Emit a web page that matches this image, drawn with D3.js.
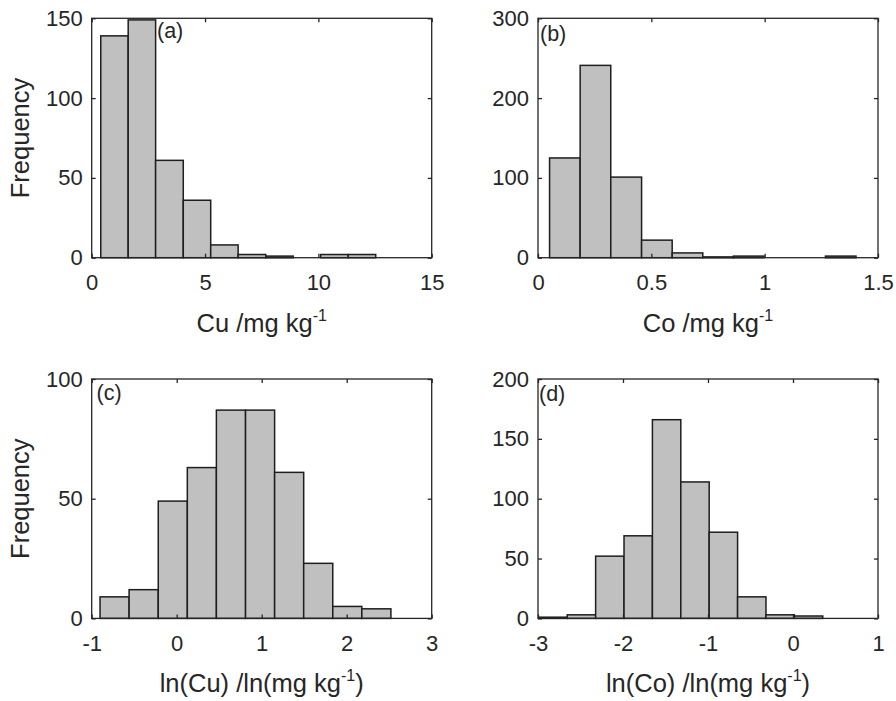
<!DOCTYPE html>
<html lang="en">
<head>
<meta charset="utf-8">
<script src="https://d3js.org/d3.v7.min.js"></script>
<style>
  body { margin: 0; background: #fff; }
  svg { display: block; font-family: "Liberation Sans", Arial, sans-serif; }
  .tick text { fill: #262626; font-size: 22px; }
  .tick line { stroke: #262626; stroke-width: 1.3px; }
  .domain { display: none; }
</style>
</head>
<body>
<svg id="chart" width="896" height="701"></svg>
<script>
// histogram bin edges and counts
const cuEdges = [0.40, 1.61, 2.82, 4.04, 5.25, 6.46, 7.68, 8.89, 10.10, 11.32, 12.53];
const cuCounts = [139, 149, 61, 36, 8, 2, 1, 0, 2, 2];

const coEdges = [0.051, 0.186, 0.321, 0.457, 0.592, 0.727, 0.862, 0.997, 1.133, 1.268, 1.403];
const coCounts = [125, 241, 101, 22, 6, 1, 2, 0, 0, 2];

const lnCuEdges = [-0.902, -0.560, -0.217, 0.125, 0.467, 0.810, 1.152, 1.494, 1.836, 2.178, 2.520];
const lnCuCounts = [9, 12, 49, 63, 87, 87, 61, 23, 5, 4];

const lnCoEdges = [-2.990, -2.656, -2.322, -1.988, -1.654, -1.320, -0.986, -0.652, -0.318, 0.016, 0.350];
const lnCoCounts = [1, 3, 52, 69, 166, 114, 72, 18, 3, 2];

// axis ticks
const cuXTicks = [0, 5, 10, 15];
const cuYTicks = [0, 50, 100, 150];
const coXTicks = [0, 0.5, 1, 1.5];
const coYTicks = [0, 100, 200, 300];
const lnCuXTicks = [-1, 0, 1, 2, 3];
const lnCuYTicks = [0, 50, 100];
const lnCoXTicks = [-3, -2, -1, 0, 1];
const lnCoYTicks = [0, 50, 100, 150, 200];

const svg = d3.select("#chart");

const cols = [91.7, 538];      // left edge of each column of axes
const rows = [18.3, 379];      // top edge of each row of axes
const W = 340, H = 239.4;
const ink = "#262626";
const plain = d => String(d);  // keep a plain hyphen for negatives

const panels = [
  {col: 0, row: 0, edges: cuEdges, counts: cuCounts, xd: [0, 15], yd: [0, 150],
   xt: cuXTicks, yt: cuYTicks, tag: "(a)", tagX: 157, tagY: 37.5,
   pre: "Cu /mg kg", post: "", ylab: true},
  {col: 1, row: 0, edges: coEdges, counts: coCounts, xd: [0, 1.5], yd: [0, 300],
   xt: coXTicks, yt: coYTicks, tag: "(b)", tagX: 540, tagY: 41,
   pre: "Co /mg kg", post: "", ylab: false},
  {col: 0, row: 1, edges: lnCuEdges, counts: lnCuCounts, xd: [-1, 3], yd: [0, 100],
   xt: lnCuXTicks, yt: lnCuYTicks, tag: "(c)", tagX: 96.5, tagY: 399.5,
   pre: "ln(Cu) /ln(mg kg", post: ")", ylab: true},
  {col: 1, row: 1, edges: lnCoEdges, counts: lnCoCounts, xd: [-3, 1], yd: [0, 200],
   xt: lnCoXTicks, yt: lnCoYTicks, tag: "(d)", tagX: 539, tagY: 401,
   pre: "ln(Co) /ln(mg kg", post: ")", ylab: false}
];

panels.forEach(p => {
  const x0 = cols[p.col], y0 = rows[p.row];
  const g = svg.append("g").attr("transform", `translate(${x0},${y0})`);

  const x = d3.scaleLinear().domain(p.xd).range([0, W]);
  const y = d3.scaleLinear().domain(p.yd).range([H, 0]);

  const bins = p.counts.map((c, i) => ({lo: p.edges[i], hi: p.edges[i + 1], n: c}));

  g.selectAll("rect.bar")
    .data(bins.filter(d => d.n > 0))
    .enter()
    .append("rect")
      .attr("class", "bar")
      .attr("x", d => x(d.lo))
      .attr("width", d => x(d.hi) - x(d.lo))
      .attr("y", d => y(d.n))
      .attr("height", d => y(0) - y(d.n))
      .style("fill", "#c0c0c0")
      .style("stroke", "#1e1e1e")
      .style("stroke-width", "1.5px");

  // inward ticks on all four sides, labels on left and bottom
  g.append("g").attr("transform", `translate(0,${H})`)
    .call(d3.axisBottom(x).tickValues(p.xt).tickSize(-4).tickPadding(17).tickFormat(plain));
  g.append("g")
    .call(d3.axisLeft(y).tickValues(p.yt).tickSize(-4).tickPadding(9).tickFormat(plain));
  g.append("g")
    .call(d3.axisTop(x).tickValues(p.xt).tickSize(-4).tickFormat(""));
  g.append("g").attr("transform", `translate(${W},0)`)
    .call(d3.axisRight(y).tickValues(p.yt).tickSize(-4).tickFormat(""));

  g.append("rect")
    .attr("width", W).attr("height", H)
    .style("fill", "none").style("stroke", ink).style("stroke-width", "1.3px");

  svg.append("text")
    .attr("x", p.tagX).attr("y", p.tagY)
    .style("font-size", "21.5px").style("fill", ink)
    .text(p.tag);

  const xl = svg.append("text")
    .attr("x", x0 + W / 2).attr("y", y0 + H + 74)
    .attr("text-anchor", "middle")
    .style("font-size", "25.5px").style("fill", ink);
  xl.append("tspan").text(p.pre);
  xl.append("tspan").attr("dy", -11).style("font-size", "16px").text("-1");
  if (p.post) xl.append("tspan").attr("dy", 11).text(p.post);

  if (p.ylab) {
    svg.append("text")
      .attr("transform", `translate(29,${y0 + H / 2}) rotate(-90)`)
      .attr("text-anchor", "middle")
      .style("font-size", "25.5px").style("fill", ink)
      .text("Frequency");
  }
});
</script>
</body>
</html>
